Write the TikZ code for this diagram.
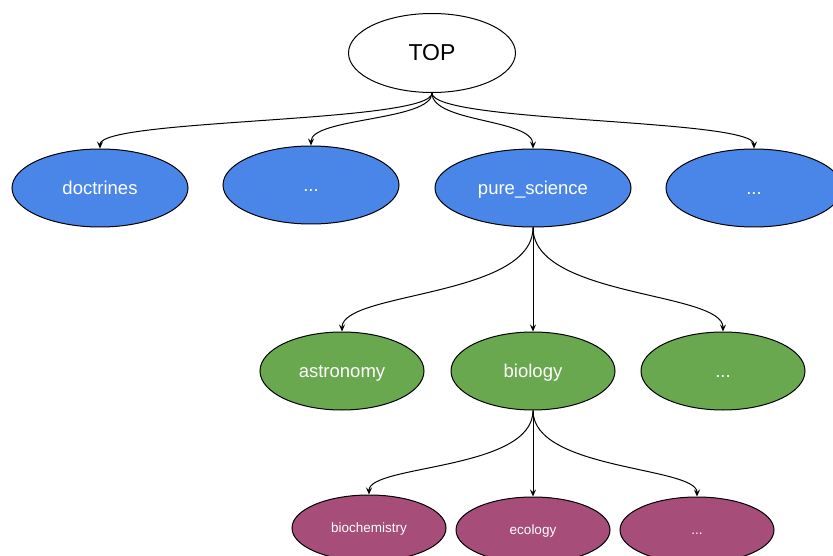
\documentclass[tikz,border=0pt]{standalone}
\usepackage{fontspec}
\setmainfont{Liberation Sans}
\usetikzlibrary{shapes.geometric,arrows.meta}
\definecolor{gblue}{HTML}{4A86E8}
\definecolor{ggreen}{HTML}{6AA84F}
\definecolor{gpurple}{HTML}{A64D79}
\begin{document}
\begin{tikzpicture}[x=1pt,y=-1pt,
  base/.style={ellipse, draw=black, line width=1pt, inner sep=0pt},
  topnode/.style={base, fill=white, minimum width=167pt, minimum height=79pt, font=\fontsize{23}{26}\selectfont, text height=20.8pt, text depth=4.9pt},
  bluenode/.style={base, fill=gblue, text=white, minimum width=176pt, minimum height=78pt, font=\fontsize{18.5}{22}\selectfont, text height=16.7pt, text depth=3.9pt},
  greennode/.style={base, fill=ggreen, text=white, minimum width=164pt, minimum height=78pt, font=\fontsize{18.5}{22}\selectfont, text height=16.7pt, text depth=3.9pt},
  purplenode/.style={base, fill=gpurple, text=white, minimum width=154pt, minimum height=66pt, font=\fontsize{13.5}{16}\selectfont, text height=12.2pt, text depth=2.9pt},
  edge/.style={line width=1pt, -{Stealth[length=7pt,width=6pt,inset=2.5pt]}}
]
\useasboundingbox (0,0) rectangle (833,556);
\begin{scope}
\clip (0,0) rectangle (833,556);
\node[topnode] (top) at (432,53) {TOP};
\node[bluenode] (doc) at (100,188) {doctrines};
\node[bluenode] (d1) at (311,185) {...};
\node[bluenode, minimum width=196pt] (ps) at (533,188) {pure\_science};
\node[bluenode] (d2) at (754,188) {...};
\node[greennode] (ast) at (342,371) {astronomy};
\node[greennode] (bio) at (533,371) {biology};
\node[greennode] (d3) at (723,371) {...};
\node[purplenode] (bch) at (369,528) {biochemistry};
\node[purplenode] (eco) at (533,530) {ecology};
\node[purplenode] (d4) at (697,530) {...};

\draw[edge] (top.south) .. controls +(0,30) and +(0,-30) .. (doc.north);
\draw[edge] (top.south) .. controls +(0,28) and +(0,-28) .. (d1.north);
\draw[edge] (top.south) .. controls +(0,30) and +(0,-30) .. (ps.north);
\draw[edge] (top.south) .. controls +(0,30) and +(0,-30) .. (d2.north);
\draw[edge] (ps.south) .. controls +(0,70) and +(0,-40) .. (ast.north);
\draw[edge] (ps.south) -- (bio.north);
\draw[edge] (ps.south) .. controls +(0,70) and +(0,-40) .. (d3.north);
\draw[edge] (bio.south) .. controls +(0,60) and +(0,-30) .. (bch.north);
\draw[edge] (bio.south) -- (eco.north);
\draw[edge] (bio.south) .. controls +(0,60) and +(0,-30) .. (d4.north);
\end{scope}
\end{tikzpicture}
\end{document}
